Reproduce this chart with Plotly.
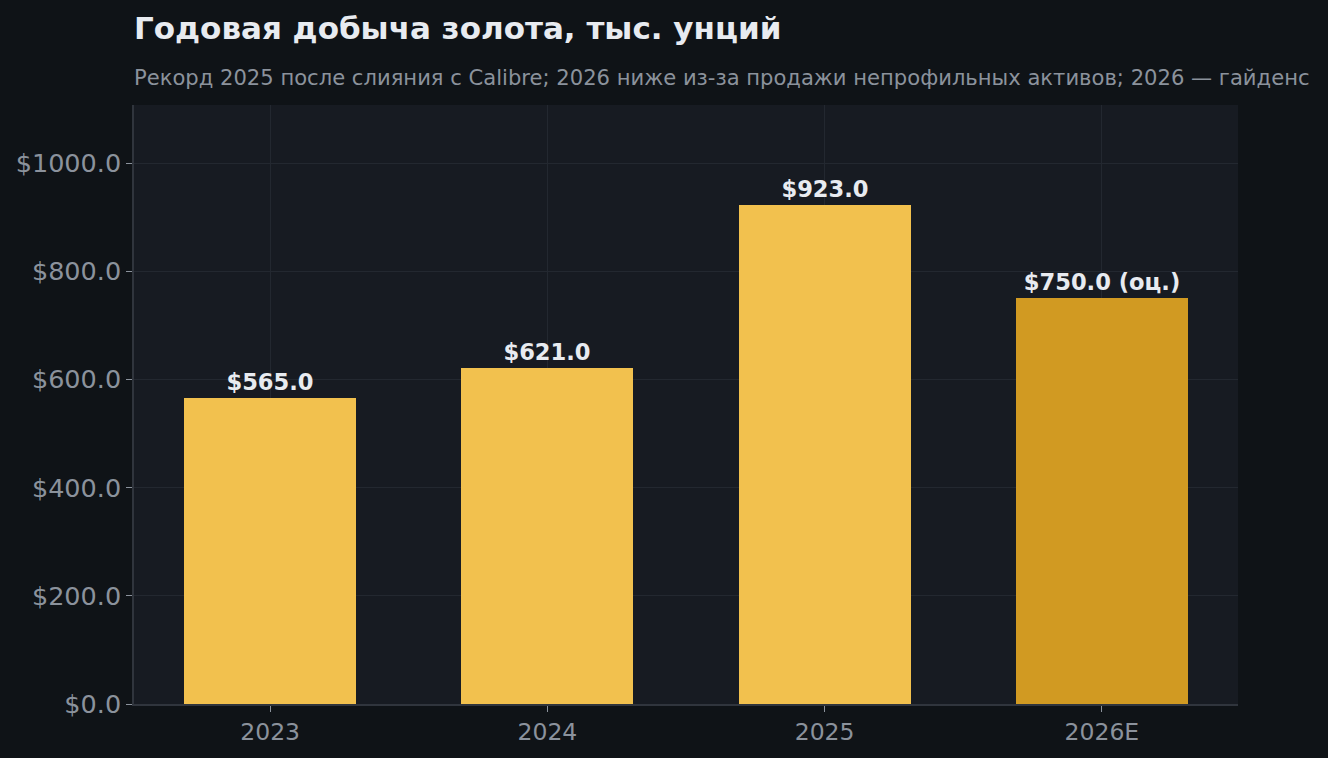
import plotly.graph_objects as go

# Дані
years = ["2023", "2024", "2025", "2026E"]
gold_koz = [565.0, 621.0, 923.0, 750.0]
label_suffix = ["", "", "", " (оц.)"]
bar_colors = ["#F2C14E", "#F2C14E", "#F2C14E", "#D19A22"]
y_ticks = [0, 200, 400, 600, 800, 1000]

title = "Годовая добыча золота, тыс. унций"
subtitle = "Рекорд 2025 после слияния с Calibre; 2026 ниже из-за продажи непрофильных активов; 2026 — гайденс"

labels = [f"${v:.1f}{s}" for v, s in zip(gold_koz, label_suffix)]
y_tick_text = [f"${v:.1f}" for v in y_ticks]

fig = go.Figure()
fig.add_trace(go.Bar(
    x=years, y=gold_koz, width=0.62,
    marker=dict(color=bar_colors, line=dict(width=0)),
    text=labels, textposition="outside", cliponaxis=False,
    textfont=dict(family="DejaVu Sans", size=22.6, color="#E8EBF0", weight="bold"),
))

# Заголовок і підзаголовок
fig.add_annotation(text=f"<b>{title}</b>", xref="paper", yref="paper", x=0, y=1,
                   xanchor="left", yanchor="bottom", yshift=57, xshift=-2, showarrow=False,
                   font=dict(family="DejaVu Sans", size=31, color="#E8EBF0"))
fig.add_annotation(text=subtitle, xref="paper", yref="paper", x=0, y=1,
                   xanchor="left", yanchor="bottom", yshift=13, xshift=-2, showarrow=False,
                   font=dict(family="DejaVu Sans", size=21.1, color="#8B929C"))

fig.update_layout(
    width=1328, height=758,
    margin=dict(l=134, r=90, t=105, b=52),
    paper_bgcolor="#0F1317", plot_bgcolor="#171B22",
    font=dict(family="DejaVu Sans", color="#8B929C", size=23.5),
    showlegend=False, bargap=0,
)
fig.update_xaxes(range=[-0.491, 3.491], showgrid=True, gridcolor="#232830", gridwidth=1,
                 showline=True, linecolor="#30353D", linewidth=1.5,
                 ticks="outside", ticklen=6, tickcolor="#8B929C", tickfont=dict(size=23.5))
fig.update_yaxes(range=[0, 1107.6], tickvals=y_ticks, ticktext=y_tick_text,
                 showgrid=True, gridcolor="#232830",
                 gridwidth=1, zeroline=False, showline=True, linecolor="#30353D", linewidth=1.5,
                 ticks="outside", ticklen=6, tickcolor="#8B929C", tickfont=dict(size=25.5))

fig.write_html("out.html", config={"displayModeBar": False},
               post_script="document.body.style.margin='0';")
